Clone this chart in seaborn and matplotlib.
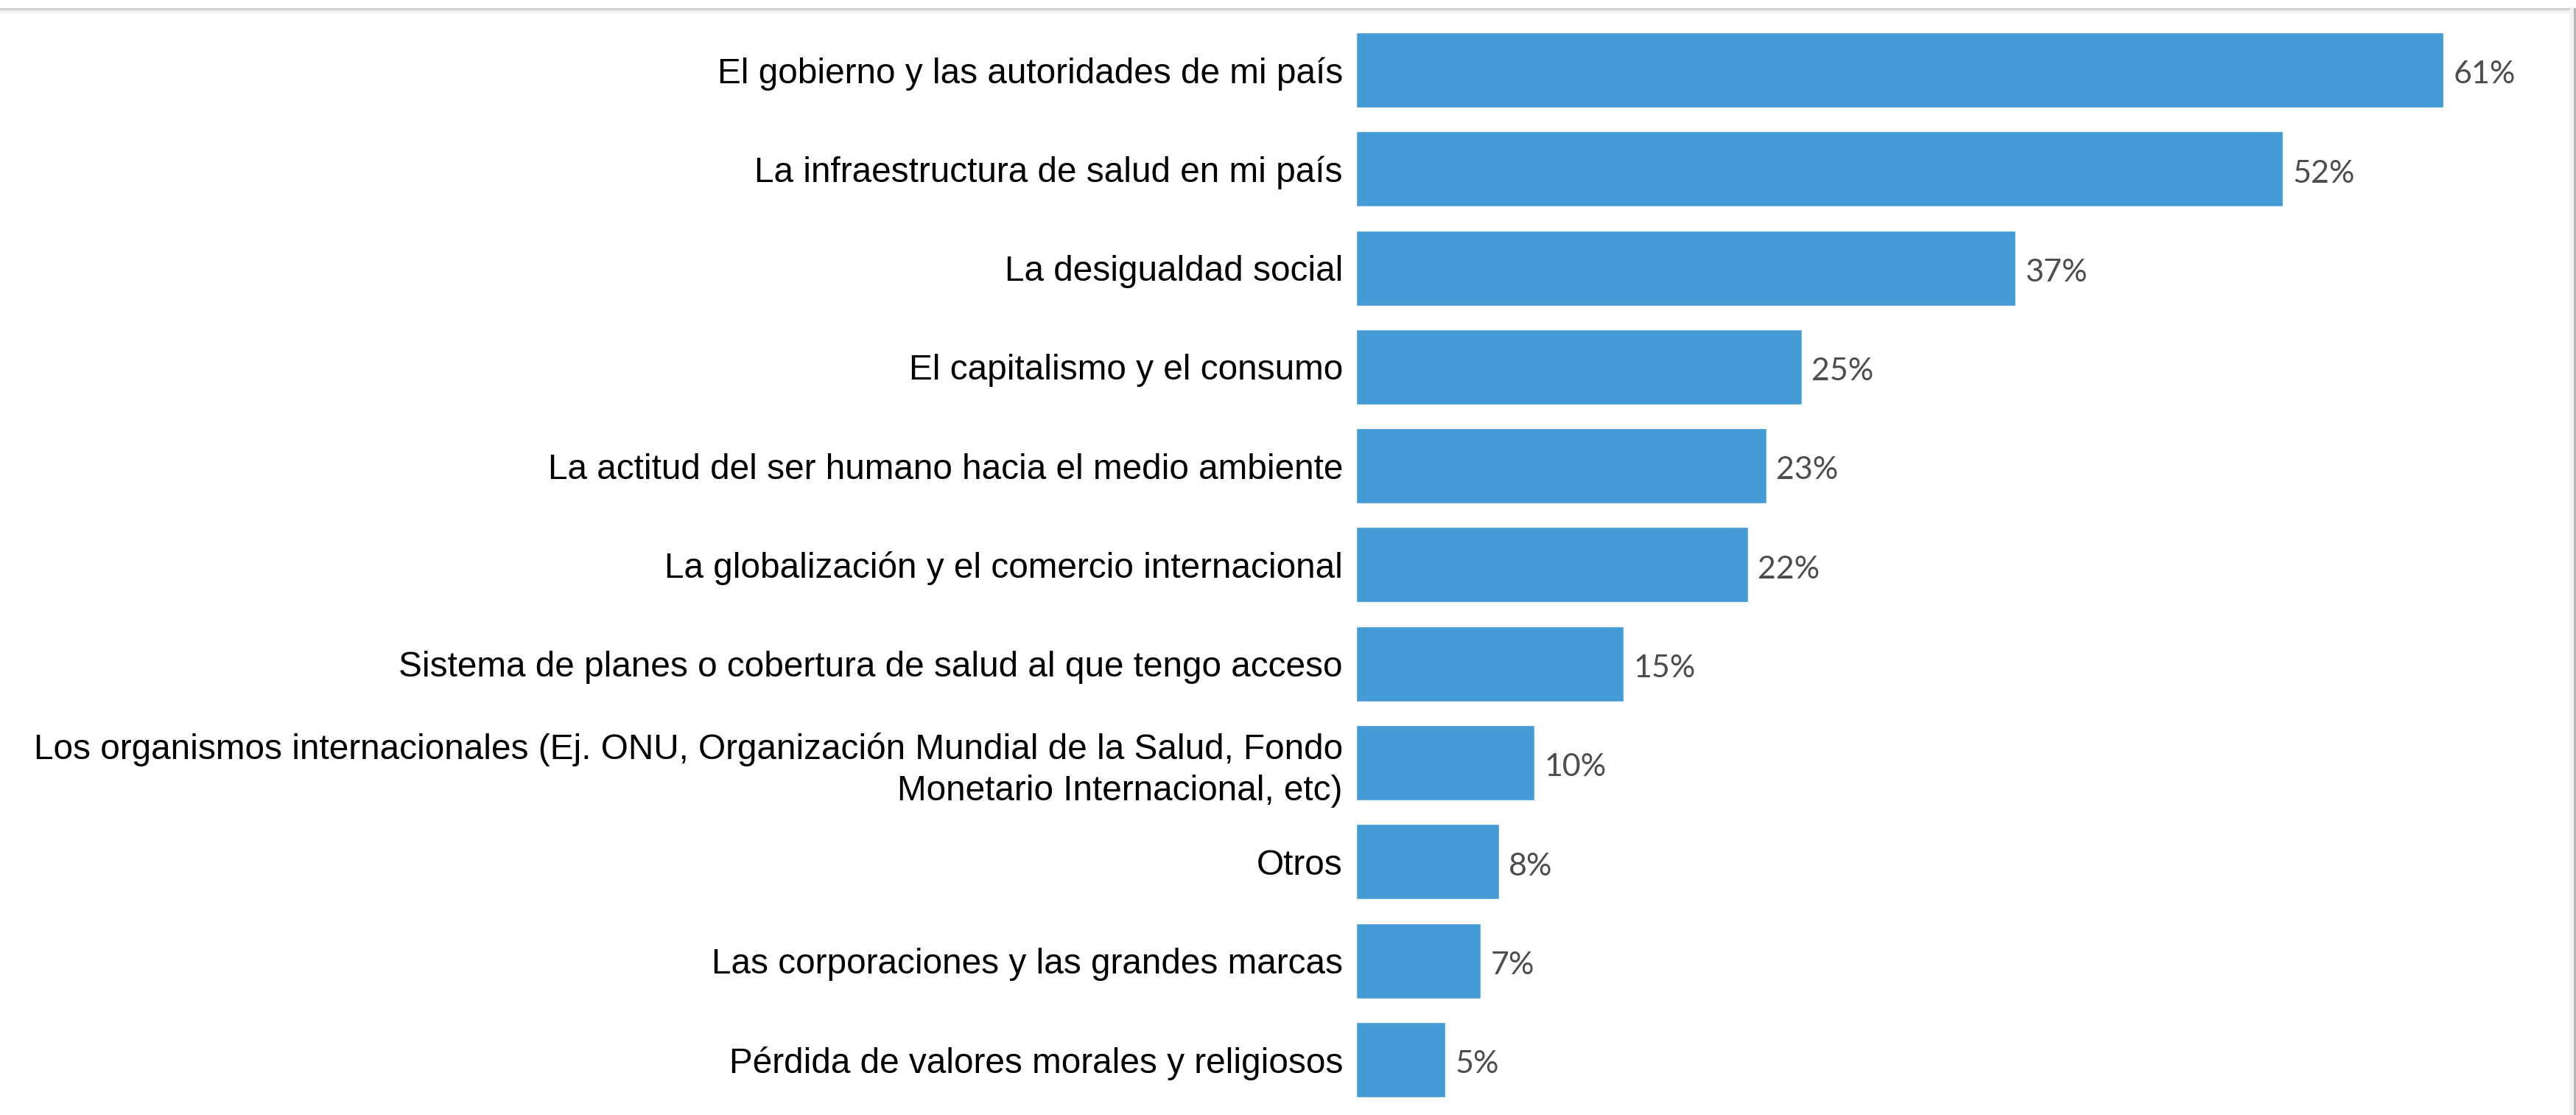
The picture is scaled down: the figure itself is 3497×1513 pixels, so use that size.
import matplotlib
matplotlib.use("Agg")
import matplotlib.pyplot as plt
from matplotlib.lines import Line2D
import seaborn as sns
import pandas as pd

# Survey responses: share of respondents naming each factor (%)
categories = [
    "El gobierno y las autoridades de mi país",
    "La infraestructura de salud en mi país",
    "La desigualdad social",
    "El capitalismo y el consumo",
    "La actitud del ser humano hacia el medio ambiente",
    "La globalización y el comercio internacional",
    "Sistema de planes o cobertura de salud al que tengo acceso",
    "Los organismos internacionales (Ej. ONU, Organización Mundial de la Salud, Fondo\nMonetario Internacional, etc)",
    "Otros",
    "Las corporaciones y las grandes marcas",
    "Pérdida de valores morales y religiosos",
]
values = [61, 52, 37, 25, 23, 22, 15, 10, 8, 7, 5]
value_labels = [f"{v}%" for v in values]

df = pd.DataFrame({"factor": categories, "pct": values})

sns.set_theme(style="white")
plt.rcParams["font.family"] = ["Liberation Sans", "DejaVu Sans"]

W, H, DPI = 3498, 1513, 100
fig = plt.figure(figsize=(W / DPI, H / DPI), dpi=DPI, facecolor="white")

ax_left = 1841 / W
ax_right = 3480 / W
ax_top_px, ax_bot_px = 27.85, 1505.0
ax = fig.add_axes([ax_left, 1 - ax_bot_px / H, ax_right - ax_left, (ax_bot_px - ax_top_px) / H])

sns.barplot(data=df, x="pct", y="factor", orient="h", color="#449bd6",
            saturation=1, width=0.76, ax=ax)

px_per_pct = 24.2
ax.set_xlim(0, (3480 - 1841) / px_per_pct)
ax.set_ylim(10.5, -0.5)

texts = ax.bar_label(ax.containers[0], labels=value_labels, padding=9.4,
                     fontsize=31, color="#4d4d4d", family=["Lato", "DejaVu Sans"])
# nudge the value labels slightly below the bar centre line (offset in points)
for t in texts:
    dx, dy = t.xyann
    t.xyann = (dx, dy - 4.5)

ax.set_xlabel("")
ax.set_ylabel("")
ax.set_xticks([])
ax.tick_params(axis="y", length=0, pad=13, labelsize=34.4, labelcolor="black")
for lbl in ax.get_yticklabels():
    lbl.set_linespacing(1.3)
for s in ax.spines.values():
    s.set_visible(False)

# Panel frame: light border along the top and right edges
fig.add_artist(Line2D([0, 1], [1 - 16 / H, 1 - 16 / H], transform=fig.transFigure,
                      color="#f1f4f4", lw=4))
fig.add_artist(Line2D([0, 1], [1 - 12 / H, 1 - 12 / H], transform=fig.transFigure,
                      color="#d2d2d2", lw=2.2))
fig.add_artist(Line2D([1 - 7 / W, 1 - 7 / W], [0, 1 - 12 / H], transform=fig.transFigure,
                      color="#f1f4f4", lw=4))
fig.add_artist(Line2D([1 - 3 / W, 1 - 3 / W], [0, 1 - 12 / H], transform=fig.transFigure,
                      color="#b5b5b5", lw=2.2))

fig.savefig("out.png", dpi=DPI, facecolor="white")
